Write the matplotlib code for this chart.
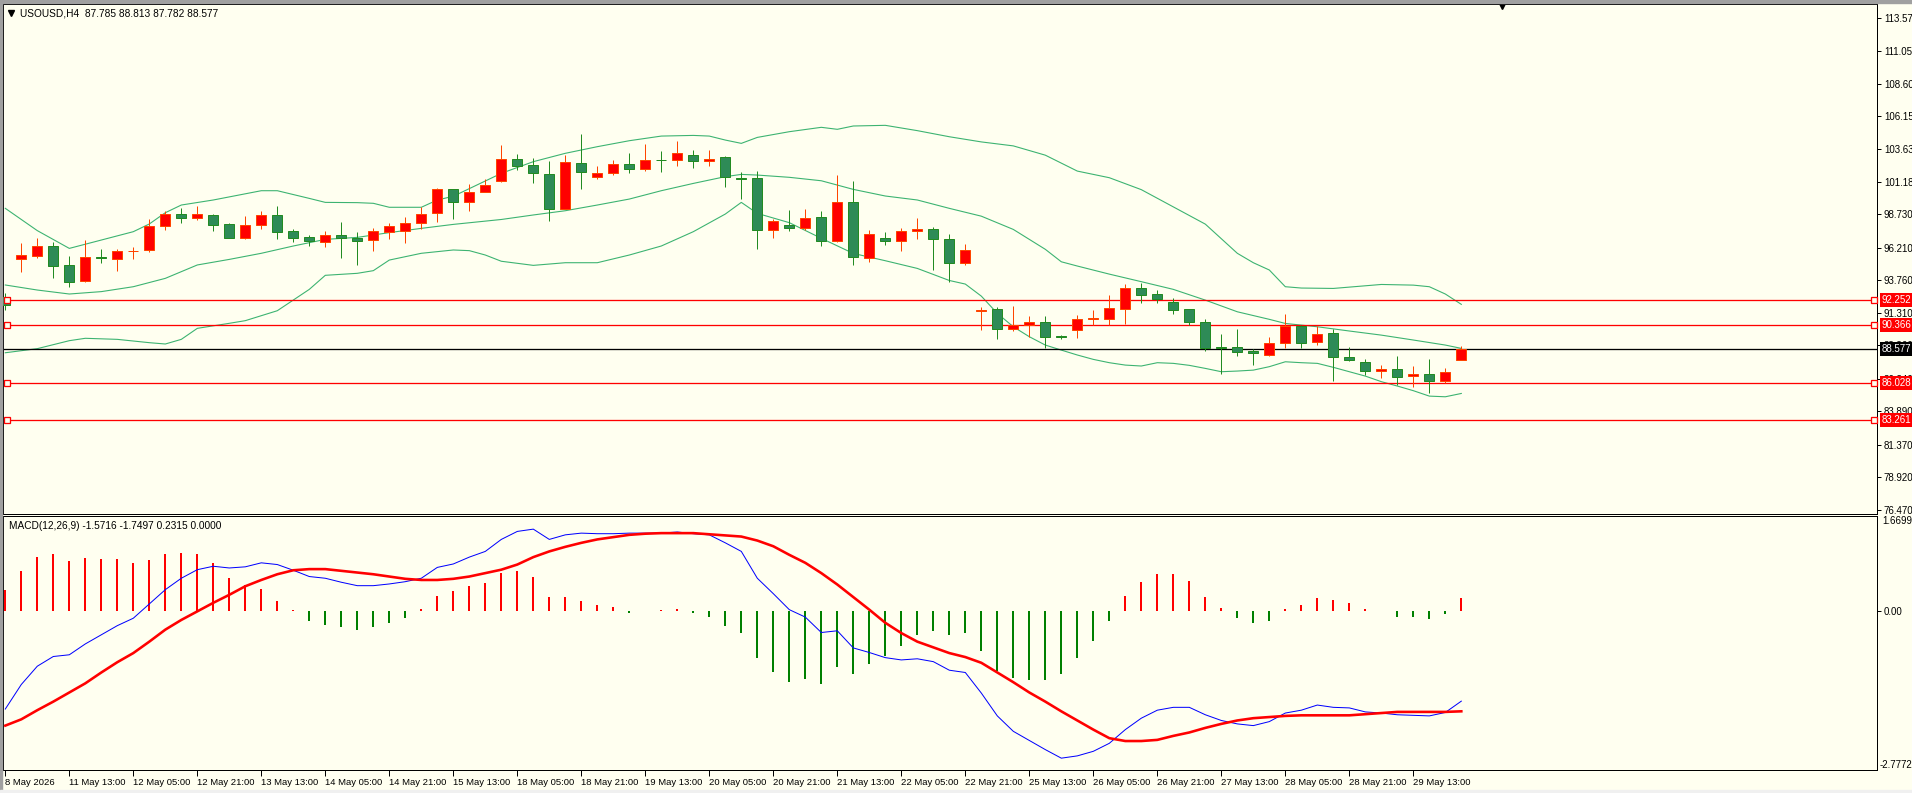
import numpy as np
import matplotlib.pyplot as plt
from matplotlib import transforms
from matplotlib.patches import Rectangle
from matplotlib.lines import Line2D

plt.rcParams['font.family'] = ['Liberation Sans', 'DejaVu Sans']

# ---- price data (H4 bars, 92 bars) ----
opens = [92.53, 95.34, 95.62, 96.33, 94.89, 93.69, 95.50, 95.40, 95.98, 96.02,
         97.83, 98.74, 98.49, 98.66, 97.98, 96.98, 97.91, 98.66, 97.48, 97.00,
         96.68, 97.18, 96.98, 96.78, 97.43, 97.51, 98.06, 98.81, 100.62, 99.69,
         100.45, 101.27, 102.88, 102.43, 101.75, 99.16, 102.58, 101.53, 101.83, 102.51,
         102.13, 102.82, 102.81, 103.19, 102.73, 103.03, 101.47, 101.45, 97.53, 97.91,
         97.68, 98.51, 96.70, 99.64, 95.42, 96.93, 96.70, 97.45, 97.60, 96.88,
         95.04, 91.45, 91.59, 90.11, 90.36, 90.61, 89.55, 90.04, 90.85, 90.87,
         91.62, 93.15, 92.73, 92.10, 91.57, 90.59, 88.72, 88.70, 88.45, 88.15,
         89.01, 90.29, 89.08, 89.76, 87.98, 87.57, 86.89, 87.07, 86.52, 86.69,
         86.19, 87.785]
highs = [92.78, 96.55, 96.93, 96.65, 95.60, 96.80, 96.10, 96.10, 96.25, 98.36,
         98.99, 99.19, 99.37, 98.76, 98.08, 98.61, 98.99, 99.37, 97.61, 97.18,
         97.48, 98.18, 97.40, 97.71, 98.08, 98.54, 99.27, 100.75, 100.62, 101.00,
         101.38, 103.96, 103.29, 102.98, 102.78, 103.21, 104.79, 102.38, 102.83, 103.36,
         104.08, 103.49, 104.24, 103.59, 103.59, 103.13, 101.90, 101.98, 98.36, 99.06,
         99.14, 98.96, 101.70, 101.25, 97.55, 97.38, 97.68, 98.43, 97.81, 97.23,
         96.50, 91.75, 91.75, 91.82, 91.07, 91.07, 89.66, 91.14, 91.52, 92.65,
         93.45, 93.58, 93.00, 92.42, 91.57, 90.82, 89.71, 90.09, 88.55, 89.48,
         91.22, 90.39, 90.29, 90.11, 88.70, 87.82, 87.35, 88.05, 87.30, 87.82,
         87.15, 88.813]
lows = [91.52, 94.41, 95.47, 93.96, 93.28, 93.66, 95.04, 94.49, 95.37, 95.92,
        97.58, 98.11, 98.31, 97.50, 96.93, 96.85, 97.61, 96.90, 96.65, 96.35,
        96.30, 95.47, 94.92, 95.99, 96.85, 96.60, 97.63, 98.18, 98.41, 99.01,
        100.40, 101.20, 102.08, 101.12, 98.26, 99.11, 100.65, 101.40, 101.70, 101.88,
        102.00, 101.95, 102.41, 102.26, 102.41, 100.82, 99.92, 96.15, 96.98, 97.50,
        97.55, 96.37, 96.63, 94.94, 95.17, 96.42, 96.00, 96.90, 94.56, 93.66,
        94.91, 90.01, 89.33, 89.93, 89.48, 88.65, 89.33, 89.41, 90.36, 90.39,
        90.49, 92.07, 92.07, 91.22, 90.39, 88.45, 86.72, 88.05, 87.40, 88.08,
        88.68, 88.68, 88.86, 86.19, 87.65, 86.64, 86.39, 85.89, 85.74, 85.29,
        85.99, 87.782]
closes = [91.88, 95.65, 96.33, 94.87, 93.66, 95.49, 95.47, 95.95, 96.01, 97.83,
          98.74, 98.49, 98.74, 97.96, 96.98, 97.91, 98.66, 97.43, 96.98, 96.70,
          97.15, 96.98, 96.75, 97.48, 97.86, 98.08, 98.74, 100.62, 99.69, 100.45,
          100.92, 102.88, 102.41, 101.83, 99.16, 102.66, 101.95, 101.83, 102.51, 102.13,
          102.81, 102.80, 103.34, 102.73, 102.93, 101.53, 101.44, 97.53, 98.21, 97.68,
          98.43, 96.70, 99.64, 95.49, 97.23, 96.70, 97.45, 97.60, 96.85, 95.04,
          96.05, 91.52, 90.11, 90.36, 90.59, 89.51, 89.52, 90.82, 90.89, 91.64,
          93.15, 92.68, 92.37, 91.54, 90.59, 88.68, 88.69, 88.38, 88.30, 89.01,
          90.34, 89.06, 89.71, 87.95, 87.77, 86.89, 87.07, 86.49, 86.67, 86.19,
          86.82, 88.577]

# Bollinger bands read at sample bars
bb_up_x = [0, 2, 4, 6, 8, 9, 10, 11, 13, 16, 17, 19, 20, 22, 23, 24, 26, 27, 28, 31,
           33, 35, 37, 39, 41, 43, 44, 45, 46, 47, 49, 51, 52, 53, 55, 57, 59, 61,
           63, 65, 67, 69, 71, 73, 75, 77, 78, 79, 80, 81, 83, 85, 86, 88, 89, 90, 91]
bb_up = [99.19, 97.51, 96.17, 96.80, 97.43, 98.01, 98.86, 99.44, 99.82, 100.52, 100.52,
         99.94, 99.64, 99.62, 99.57, 99.27, 99.27, 99.82, 100.10, 101.83,
         102.71, 103.34, 103.84, 104.29, 104.64, 104.69, 104.64, 104.34, 104.09, 104.54,
         104.97, 105.30, 105.15, 105.40, 105.45, 105.05, 104.59, 104.20,
         103.90, 103.20, 102.00, 101.50, 100.60, 99.30, 98.00, 95.80, 95.09, 94.54,
         93.28, 93.18, 93.15, 93.35, 93.45, 93.40, 93.28, 92.73, 91.95]
bb_mid_x = [0, 2, 4, 6, 8, 10, 12, 14, 16, 18, 20, 22, 24, 26, 28, 31, 33, 35, 37, 39,
            41, 43, 45, 46, 47, 49, 51, 53, 55, 57, 59, 61, 63, 65, 66, 67, 69, 71,
            73, 75, 77, 79, 80, 82, 84, 86, 88, 90, 91]
bb_mid = [93.41, 93.03, 92.73, 92.91, 93.28, 93.91, 94.92, 95.34, 95.80, 96.35, 96.85,
          97.00, 97.36, 97.68, 97.98, 98.35, 98.69, 99.01, 99.44, 99.89, 100.52, 101.07,
          101.58, 101.75, 101.70, 101.53, 101.27, 100.62, 100.12, 99.82, 99.19, 98.60,
          97.60, 96.10, 95.16, 94.84, 94.23, 93.66, 93.08, 92.27, 91.39, 90.82, 90.51,
          90.26, 89.94, 89.63, 89.26, 88.88, 88.63]
bb_low_x = [0, 2, 4, 5, 7, 9, 10, 11, 12, 14, 15, 17, 19, 20, 22, 23, 24, 26, 28, 29,
            30, 31, 33, 35, 37, 39, 41, 43, 45, 46, 47, 49, 51, 53, 55, 57, 59, 60,
            61, 62, 63, 64, 65, 66, 67, 68, 69, 70, 71, 72, 73, 74, 75, 76, 77, 78,
            79, 80, 81, 82, 83, 84, 85, 86, 87, 88, 89, 90, 91]
bb_low = [88.30, 88.61, 89.21, 89.39, 89.31, 89.06, 88.96, 89.31, 90.14, 90.52, 90.72,
          91.47, 93.08, 94.14, 94.29, 94.49, 95.29, 95.80, 96.05, 96.00, 95.67, 95.20,
          94.89, 95.09, 95.09, 95.67, 96.35, 97.43, 98.76, 99.64, 98.81, 98.11, 96.93,
          95.79, 95.24, 94.66, 93.75, 93.48, 92.57, 91.27, 90.26, 89.51, 88.88, 88.50,
          88.13, 87.80, 87.55, 87.37, 87.30, 87.55, 87.50, 87.35, 87.12, 86.87, 86.92,
          86.99, 87.25, 87.62, 87.55, 87.50, 87.20, 86.87, 86.54, 86.12, 85.79, 85.44,
          85.03, 84.98, 85.23]

levels = [92.252, 90.366, 86.028, 83.261]
last_price = 88.577

price_ticks = [113.570, 111.050, 108.600, 106.150, 103.630, 101.180, 98.730, 96.210,
               93.760, 91.310, 88.860, 86.340, 83.890, 81.370, 78.920, 76.470]

# ---- MACD(12,26,9) ----
macd_hist = [0.38, 0.70, 0.96, 1.00, 0.89, 0.94, 0.92, 0.91, 0.84, 0.90, 1.00, 1.02, 1.00,
             0.84, 0.59, 0.47, 0.40, 0.19, 0.02, -0.16, -0.23, -0.28, -0.32, -0.28, -0.21,
             -0.12, 0.035, 0.27, 0.35, 0.44, 0.49, 0.67, 0.70, 0.61, 0.25, 0.26, 0.19,
             0.105, 0.07, -0.02, 0.01, 0.02, 0.05, -0.035, -0.09, -0.25, -0.385, -0.82,
             -1.06, -1.23, -1.19, -1.28, -0.98, -1.09, -0.93, -0.79, -0.60, -0.42, -0.35,
             -0.42, -0.385, -0.70, -1.05, -1.17, -1.20, -1.20, -1.10, -0.81, -0.51, -0.16,
             0.27, 0.52, 0.66, 0.66, 0.53, 0.26, 0.064, -0.11, -0.21, -0.16, 0.047, 0.12,
             0.24, 0.20, 0.15, 0.047, 0.01, -0.09, -0.105, -0.13, -0.04, 0.2315]
macd_main = [-1.71, -1.28, -0.96, -0.79, -0.76, -0.57, -0.41, -0.25, -0.12, 0.13, 0.38,
             0.58, 0.73, 0.79, 0.76, 0.78, 0.85, 0.82, 0.72, 0.61, 0.58, 0.51, 0.45, 0.45,
             0.48, 0.52, 0.58, 0.77, 0.83, 0.95, 1.05, 1.26, 1.40, 1.44, 1.26, 1.34, 1.37,
             1.36, 1.36, 1.37, 1.37, 1.37, 1.39, 1.36, 1.34, 1.20, 1.05, 0.58,
             0.31, 0.03, -0.10, -0.37, -0.34, -0.64, -0.72, -0.81, -0.85, -0.83, -0.88,
             -1.03, -1.07, -1.43, -1.83, -2.10, -2.26, -2.42, -2.57, -2.53, -2.45, -2.31,
             -2.07, -1.87, -1.73, -1.68, -1.68, -1.81, -1.91, -1.97, -2.00, -1.93, -1.78,
             -1.73, -1.64, -1.68, -1.69, -1.76, -1.78, -1.81, -1.82, -1.83, -1.77, -1.5716]
macd_signal = [-2.00, -1.89, -1.73, -1.58, -1.42, -1.26, -1.07, -0.89, -0.73, -0.53, -0.32,
               -0.15, 0.00, 0.15, 0.29, 0.44, 0.55, 0.65, 0.72, 0.74, 0.74, 0.71, 0.68,
               0.65, 0.61, 0.57, 0.55, 0.55, 0.57, 0.61, 0.67, 0.73, 0.82, 0.95, 1.05,
               1.13, 1.20, 1.26, 1.30, 1.34, 1.36, 1.37, 1.37, 1.37, 1.35, 1.33, 1.31, 1.24,
               1.14, 0.99, 0.85, 0.67, 0.47, 0.25, 0.03, -0.20, -0.38, -0.53, -0.63, -0.73,
               -0.80, -0.90, -1.07, -1.24, -1.42, -1.58, -1.75, -1.91, -2.07, -2.22, -2.27,
               -2.27, -2.25, -2.18, -2.12, -2.04, -1.97, -1.91, -1.87, -1.85, -1.83, -1.82,
               -1.82, -1.82, -1.82, -1.80, -1.78, -1.76, -1.76, -1.76, -1.76, -1.7497]
macd_max, macd_min = 1.6699, -2.7772

x_labels = ['8 May 2026', '11 May 13:00', '12 May 05:00', '12 May 21:00', '13 May 13:00',
            '14 May 05:00', '14 May 21:00', '15 May 13:00', '18 May 05:00', '18 May 21:00',
            '19 May 13:00', '20 May 05:00', '20 May 21:00', '21 May 13:00', '22 May 05:00',
            '22 May 21:00', '25 May 13:00', '26 May 05:00', '26 May 21:00', '27 May 13:00',
            '28 May 05:00', '28 May 21:00', '29 May 13:00']

# ---- style ----
BG = '#FFFFF0'
BULL, BULL_EDGE = '#FF0000', '#FF4500'
BEAR, BEAR_EDGE = '#2E8B57', '#228B22'
BAND = '#3CB371'
PX = 0.72  # one pixel in points
FS = 7.0

W, H = 1912, 793
fig = plt.figure(figsize=(W / 100, H / 100), dpi=100, facecolor=BG)


def px_axes(x0, y0, x1, y1):
    a = fig.add_axes([x0 / W, 1 - y1 / H, (x1 - x0) / W, (y1 - y0) / H])
    a.set_facecolor(BG)
    for s in a.spines.values():
        s.set_linewidth(PX)
        s.set_color('black')
    return a


ax = px_axes(3, 4, 1877, 514)
am = px_axes(3, 516, 1877, 770)

n = len(closes)
idx = np.arange(n)
o = np.array(opens)
c = np.array(closes)
bull = c >= o
xlim = (-0.144, 116.98)

# candles
wick_cols = [BULL_EDGE if b else BEAR_EDGE for b in bull]
ax.vlines(idx, lows, highs, colors=wick_cols, lw=PX, zorder=3)
ax.bar(idx, np.abs(c - o), bottom=np.minimum(o, c), width=0.62,
       color=[BULL if b else BEAR for b in bull],
       edgecolor=[BULL_EDGE if b else BEAR_EDGE for b in bull], lw=PX, zorder=4)

# bands
for bx, by in [(bb_up_x, bb_up), (bb_mid_x, bb_mid), (bb_low_x, bb_low)]:
    ax.plot(bx, by, color=BAND, lw=PX * 1.1, zorder=2)

# horizontal levels
label_tr = transforms.blended_transform_factory(ax.transAxes, ax.transData)
sq_x = [0.11, 116.8]
for lv in levels:
    ax.axhline(lv, color='#FF0000', lw=PX * 1.3, zorder=2)
    ax.plot(sq_x, [lv, lv], ls='none', marker='s', ms=4, mfc=BG, mec='#FF0000',
            mew=PX * 1.3, zorder=5, clip_on=False)
    ax.text(1 + 5 / 1874, lv, f'{lv:.3f}', transform=label_tr, fontsize=FS, color='white',
            va='center', ha='left', zorder=10, clip_on=False,
            bbox=dict(boxstyle='square,pad=0.2', fc='#FF0000', ec='none'))
ax.axhline(last_price, color='black', lw=PX * 1.3, zorder=2)
ax.text(1 + 5 / 1874, last_price, f'{last_price:.3f}', transform=label_tr, fontsize=FS,
        color='white', va='center', ha='left', zorder=10, clip_on=False,
        bbox=dict(boxstyle='square,pad=0.2', fc='black', ec='none'))

ax.set_xlim(*xlim)
ax.set_ylim(76.14, 114.60)
ax.set_xticks([])
ax.yaxis.tick_right()
ax.set_yticks(price_ticks)
ax.set_yticklabels([f'{v:.3f}' for v in price_ticks])
ax.tick_params(axis='y', length=3, width=PX, pad=2, labelsize=FS)

# MACD panel
hist_cols = ['#FF0000' if v > 0 else '#008000' for v in macd_hist]
am.vlines(idx, 0, macd_hist, colors=hist_cols, lw=PX * 2, zorder=2)
am.plot(idx, macd_main, color='#0000FF', lw=PX, zorder=3)
am.plot(idx, macd_signal, color='#FF0000', lw=PX * 2.6, zorder=3)
am.set_xlim(*xlim)
am.set_ylim(macd_min, macd_max)
am.yaxis.tick_right()
am.set_yticks([0])
am.set_yticklabels(['0.00'])
am.tick_params(axis='y', length=3, width=PX, pad=2, labelsize=FS)
am.text(1 + 5 / 1874, 1.0, f'{macd_max:.4f}', transform=am.transAxes, fontsize=FS,
        va='top', ha='left')
am.text(1 + 3 / 1874, 0.0, f'{macd_min:.4f}', transform=am.transAxes, fontsize=FS,
        va='bottom', ha='left')
am.set_xticks(idx[::4])
am.set_xticklabels(x_labels)
am.tick_params(axis='x', length=4, width=PX, pad=2, labelsize=6.8)
for lab in am.get_xticklabels():
    lab.set_horizontalalignment('left')

# header texts
fig.text(20 / W, 1 - 13 / H, 'USOUSD,H4  87.785 88.813 87.782 88.577', fontsize=7.3,
         va='center', ha='left')
fig.text(9 / W, 1 - 526 / H, 'MACD(12,26,9) -1.5716 -1.7497 0.2315 0.0000', fontsize=7.3,
         va='center', ha='left')
fig.add_artist(Line2D([11 / W], [1 - 13 / H], marker='v', ms=4, color='black',
                      transform=fig.transFigure))
fig.add_artist(Line2D([1502 / W], [1 - 6 / H], marker='v', ms=5, color='black',
                      transform=fig.transFigure))

# window frame
fig.add_artist(Rectangle((0, 1 - 3 / H), 1, 3 / H, transform=fig.transFigure,
                         color='#A0A0A0', zorder=20))
fig.add_artist(Rectangle((0, 0), 2 / W, 1, transform=fig.transFigure,
                         color='#A0A0A0', zorder=20))
fig.add_artist(Rectangle((0, 0), 1, 3 / H, transform=fig.transFigure,
                         color='#F0F0F0', zorder=20))

fig.savefig('out.png', dpi=100, facecolor=BG)
